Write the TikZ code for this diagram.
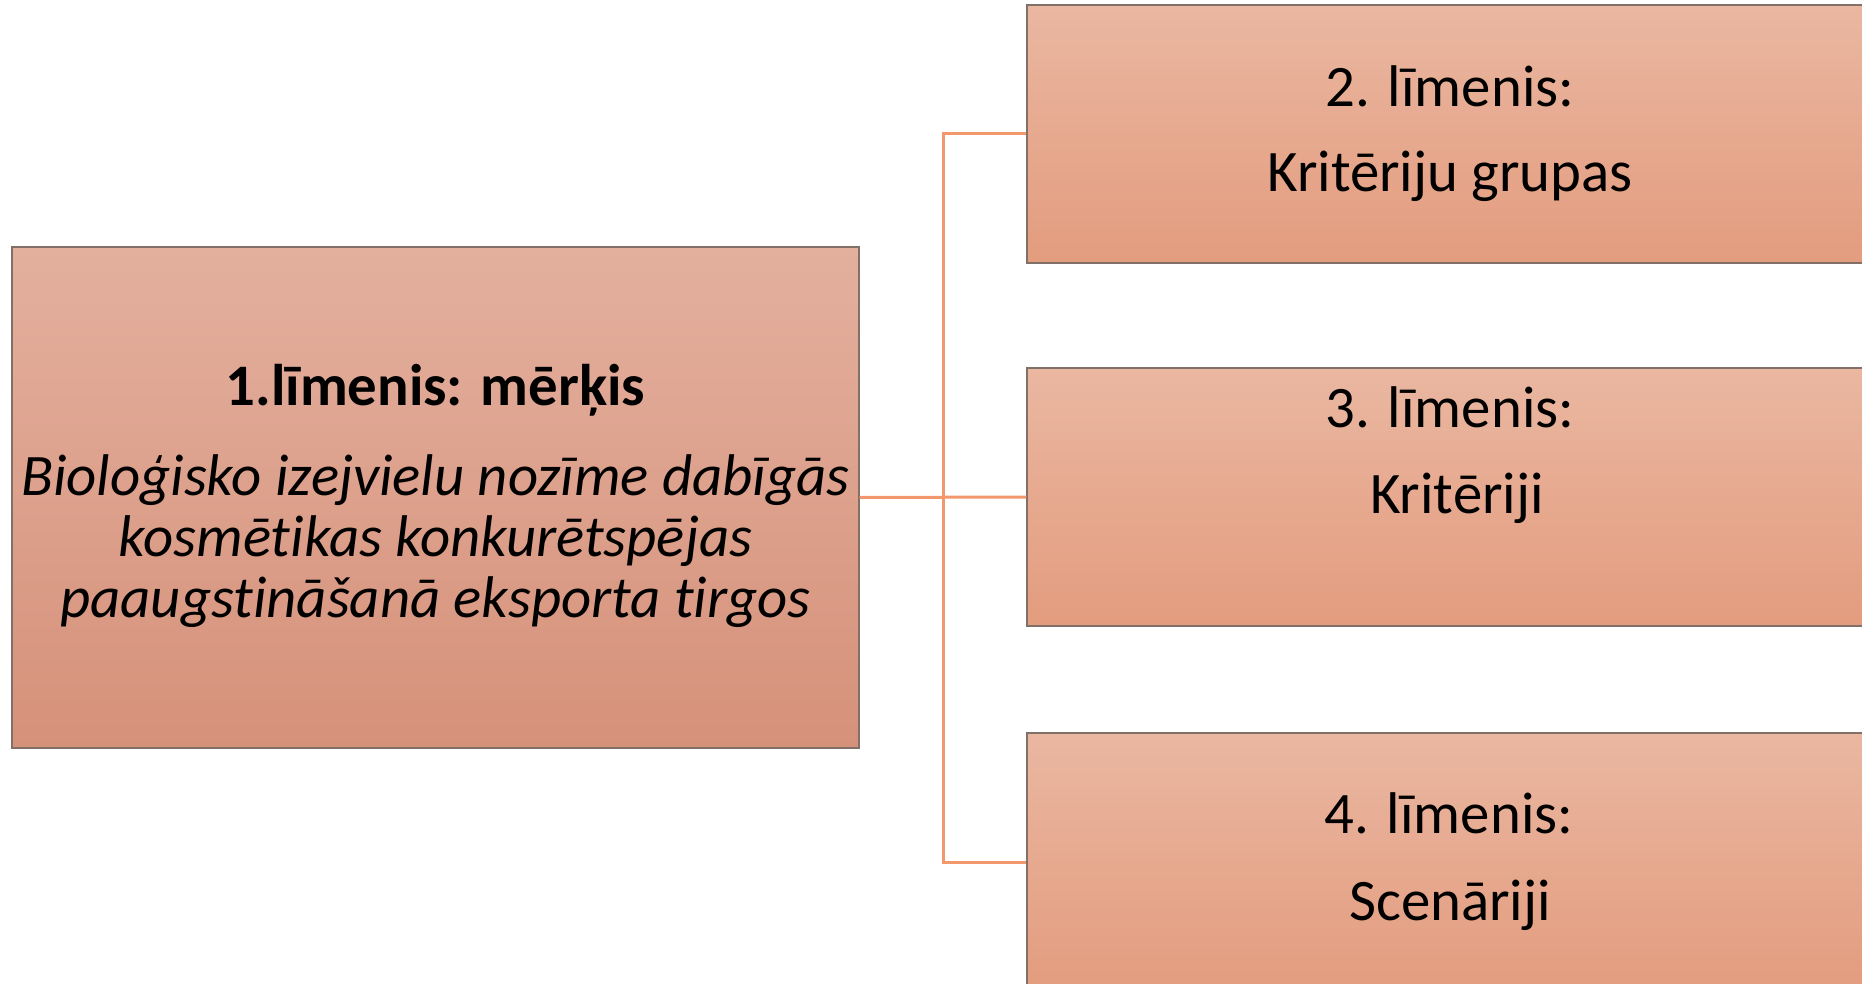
\documentclass[tikz,border=0pt]{standalone}
\usepackage{fontspec}
\setmainfont[Ligatures=NoCommon, RawFeature={-liga;-clig;-calt}]{Carlito}

\definecolor{goaltop}{RGB}{227,176,158}
\definecolor{goalbot}{RGB}{214,145,122}
\definecolor{leveltop}{RGB}{234,183,161}
\definecolor{levelbot}{RGB}{227,156,126}
\definecolor{boxline}{RGB}{128,112,104}
\definecolor{linkline}{RGB}{243,152,108}

\tikzset{
  goalbox/.style={draw=boxline, line width=0.6pt, top color=goaltop, bottom color=goalbot,
    minimum width=423.5pt, minimum height=250.5pt, inner sep=0pt},
  levelbox/.style={draw=boxline, line width=0.6pt, top color=leveltop, bottom color=levelbot,
    minimum width=423pt, minimum height=129pt, inner sep=0pt},
  link/.style={draw=linkline, line width=1.5pt},
  txt/.style={anchor=base, inner sep=0pt, font=\fontsize{29.4}{36}\selectfont}
}

\begin{document}
\begin{tikzpicture}[x=0.5pt, y=-0.5pt]
        \useasboundingbox (0,0) rectangle (1862,984);
        \clip (0,0) rectangle (1862,984);

        % boxes
        \node[goalbox] (goal) at (435.5,497.5) {};
        \node[levelbox] (lvltwo) at (1450,134) {};
        \node[levelbox] (lvlthree) at (1450,497) {};
        \node[levelbox] (lvlfour) at (1450,862) {};

        % connectors
        \coordinate (fork) at (943,497);
        \draw[link] (goal.east) -- (lvlthree.west);
        \draw[link] (fork) |- (lvltwo.west);
        \draw[link] (fork) |- (lvlfour.west);

        % texts
        \node[txt, font=\fontsize{29.4}{36}\selectfont\bfseries] (goaltitle) at (435.5,405) {1.līmenis: mērķis};
        \node[txt, font=\fontsize{29.4}{36}\selectfont\itshape] (goalone) at (435.5,495) {Bioloģisko izejvielu nozīme dabīgās};
        \node[txt, font=\fontsize{29.4}{36}\selectfont\itshape] (goaltwo) at (435.5,556) {kosmētikas konkurētspējas};
        \node[txt, font=\fontsize{29.4}{36}\selectfont\itshape] (goalthree) at (435.5,617) {paaugstināšanā eksporta tirgos};

        \node[txt] (twohead) at (1450,107) {2. līmenis:};
        \node[txt] (twoname) at (1450,192) {Kritēriju grupas};
        \node[txt] (threehead) at (1450,427) {3. līmenis:};
        \node[txt] (threename) at (1457,513) {Kritēriji};
        \node[txt] (fourhead) at (1449,833) {4. līmenis:};
        \node[txt] (fourname) at (1450,920) {Scenāriji};
\end{tikzpicture}
\end{document}
